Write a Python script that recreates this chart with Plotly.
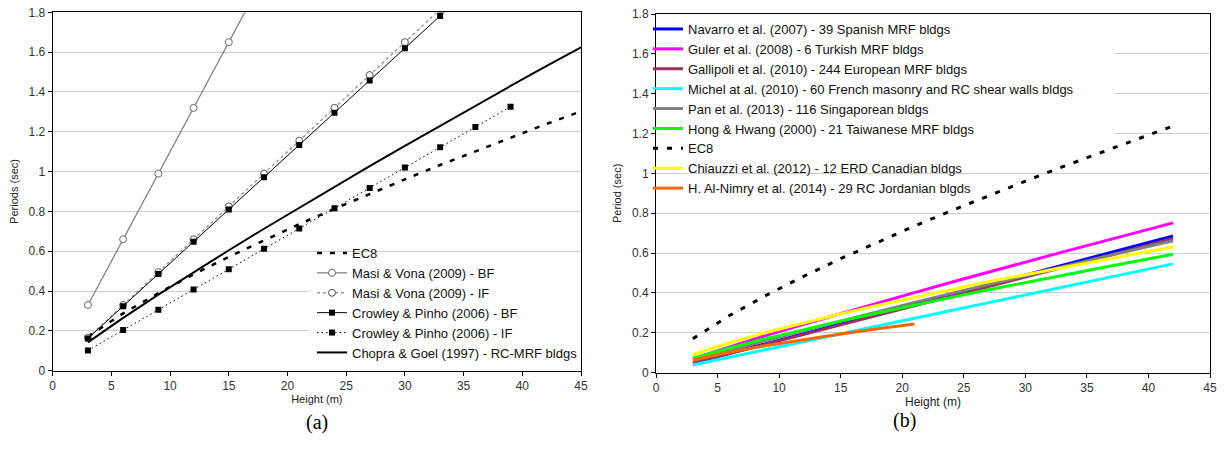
import plotly.graph_objects as go

# ---------------- data: panel (a) ----------------
H_ec8 = [3, 6, 9, 12, 15, 18, 21, 24, 27, 30, 33, 36, 39, 42, 45]
T_ec8 = [0.171, 0.288, 0.390, 0.484, 0.572, 0.655, 0.736, 0.813, 0.888, 0.961,
         1.033, 1.102, 1.171, 1.238, 1.303]

H_mv_bf = [3, 6, 9, 12, 15, 18]
T_mv_bf = [0.33, 0.66, 0.99, 1.32, 1.65, 1.98]

H_mv_if = [3, 6, 9, 12, 15, 18, 21, 24, 27, 30, 33]
T_mv_if = [0.165, 0.33, 0.495, 0.66, 0.825, 0.99, 1.155, 1.32, 1.485, 1.65, 1.815]

H_cp_bf = [3, 6, 9, 12, 15, 18, 21, 24, 27, 30, 33, 36]
T_cp_bf = [0.162, 0.324, 0.486, 0.648, 0.81, 0.972, 1.134, 1.296, 1.458, 1.62, 1.782, 1.944]

H_cp_if = [3, 6, 9, 12, 15, 18, 21, 24, 27, 30, 33, 36, 39]
T_cp_if = [0.102, 0.204, 0.306, 0.408, 0.51, 0.612, 0.714, 0.816, 0.918, 1.02,
           1.122, 1.224, 1.326]

H_cg = [3, 6, 9, 12, 15, 18, 21, 24, 27, 30, 33, 36, 39, 42, 45]
T_cg = [0.142, 0.265, 0.382, 0.495, 0.605, 0.713, 0.819, 0.924, 1.027, 1.129,
        1.230, 1.331, 1.430, 1.528, 1.624]

# ---------------- data: panel (b) ----------------
H_b = [3, 6, 9, 12, 15, 18, 21, 24, 27, 30, 33, 36, 39, 42]
T_navarro = [0.049, 0.098, 0.147, 0.196, 0.245, 0.294, 0.343, 0.392, 0.441, 0.490,
             0.539, 0.588, 0.637, 0.686]
T_guler = [0.070, 0.130, 0.188, 0.243, 0.297, 0.350, 0.402, 0.454, 0.505, 0.555,
           0.605, 0.654, 0.703, 0.752]
T_gallipoli = [0.048, 0.096, 0.144, 0.192, 0.240, 0.288, 0.336, 0.384, 0.432, 0.480,
               0.528, 0.576, 0.624, 0.672]
T_michel = [0.039, 0.078, 0.117, 0.156, 0.195, 0.234, 0.273, 0.312, 0.351, 0.390,
            0.429, 0.468, 0.507, 0.546]
T_pan = [0.060, 0.113, 0.163, 0.212, 0.260, 0.306, 0.353, 0.398, 0.443, 0.488,
         0.531, 0.576, 0.619, 0.662]
T_hong = [0.071, 0.124, 0.172, 0.217, 0.259, 0.300, 0.340, 0.378, 0.416, 0.453,
          0.489, 0.524, 0.559, 0.594]
T_ec8_b = [0.171, 0.288, 0.390, 0.484, 0.572, 0.655, 0.736, 0.813, 0.888, 0.961,
           1.033, 1.102, 1.171, 1.238]
T_chiauzzi = [0.090, 0.150, 0.203, 0.250, 0.295, 0.338, 0.378, 0.418, 0.456, 0.492,
              0.528, 0.563, 0.597, 0.631]
H_nimry = [3, 6, 9, 12, 15, 18, 21]
T_nimry = [0.064, 0.103, 0.136, 0.166, 0.194, 0.220, 0.244]

x_ticks = [0, 5, 10, 15, 20, 25, 30, 35, 40, 45]
y_ticks = [0, 0.2, 0.4, 0.6, 0.8, 1.0, 1.2, 1.4, 1.6, 1.8]

FONT = "Arial, Liberation Sans, sans-serif"
SERIF = "Times New Roman, Liberation Serif, serif"
W, HGT = 1224, 450


def px(xp):
    return xp / W


def py(yp):
    return 1 - yp / HGT


fig = go.Figure()

# ---- panel (a) traces ----
fig.add_trace(go.Scatter(x=H_ec8, y=T_ec8, mode="lines", name="EC8",
                         line=dict(color="black", width=2.5, dash="5px,8px"),
                         xaxis="x", yaxis="y", legend="legend"))
fig.add_trace(go.Scatter(x=H_mv_bf, y=T_mv_bf, mode="lines+markers",
                         name="Masi & Vona (2009) - BF",
                         line=dict(color="#7a7a7a", width=1.2),
                         marker=dict(symbol="circle", size=7, color="white",
                                     line=dict(color="#6a6a6a", width=1)),
                         xaxis="x", yaxis="y", legend="legend"))
fig.add_trace(go.Scatter(x=H_mv_if, y=T_mv_if, mode="lines+markers",
                         name="Masi & Vona (2009) - IF",
                         line=dict(color="#9a9a9a", width=1.5, dash="3px,3px"),
                         marker=dict(symbol="circle", size=7, color="white",
                                     line=dict(color="#555555", width=1)),
                         xaxis="x", yaxis="y", legend="legend"))
fig.add_trace(go.Scatter(x=H_cp_bf, y=T_cp_bf, mode="lines+markers",
                         name="Crowley & Pinho (2006) - BF",
                         line=dict(color="black", width=1),
                         marker=dict(symbol="square", size=6, color="black"),
                         xaxis="x", yaxis="y", legend="legend"))
fig.add_trace(go.Scatter(x=H_cp_if, y=T_cp_if, mode="lines+markers",
                         name="Crowley & Pinho (2006) - IF",
                         line=dict(color="black", width=1, dash="1.5px,3px"),
                         marker=dict(symbol="square", size=6, color="black"),
                         xaxis="x", yaxis="y", legend="legend"))
fig.add_trace(go.Scatter(x=H_cg, y=T_cg, mode="lines",
                         name="Chopra & Goel (1997) - RC-MRF bldgs",
                         line=dict(color="black", width=2),
                         xaxis="x", yaxis="y", legend="legend"))

# ---- panel (b) traces ----
b_series = [
    ("Navarro et al. (2007) - 39 Spanish MRF bldgs", H_b, T_navarro, "#0000FF", None),
    ("Guler et al. (2008) - 6 Turkish MRF bldgs", H_b, T_guler, "#FF00FF", None),
    ("Gallipoli et al. (2010) - 244 European MRF bldgs", H_b, T_gallipoli, "#993366", None),
    ("Michel at al. (2010) - 60 French masonry and RC shear walls bldgs", H_b, T_michel, "#00FFFF", None),
    ("Pan et al. (2013) - 116 Singaporean bldgs", H_b, T_pan, "#808080", None),
    ("Hong & Hwang (2000) - 21 Taiwanese MRF bldgs", H_b, T_hong, "#00FF00", None),
    ("EC8", H_b, T_ec8_b, "black", "5px,9px"),
    ("Chiauzzi et al. (2012) - 12 ERD Canadian bldgs", H_b, T_chiauzzi, "#FFFF00", None),
    ("H. Al-Nimry et al. (2014) - 29 RC Jordanian blgds", H_nimry, T_nimry, "#FF6600", None),
]
for name, xs, ys, col, dash in b_series:
    fig.add_trace(go.Scatter(x=xs, y=ys, mode="lines", name=name,
                             line=dict(color=col, width=3, dash=dash),
                             xaxis="x2", yaxis="y2", legend="legend2"))

axis_common = dict(
    showline=True, linecolor="black", linewidth=1, mirror=True,
    ticks="outside", ticklen=4, tickcolor="black",
    tickfont=dict(family=FONT, size=12, color="#333333"),
    zeroline=False, automargin=False, ticklabeloverflow="allow",
)

fig.update_layout(
    width=W, height=HGT,
    margin=dict(l=0, r=0, t=0, b=0),
    paper_bgcolor="white", plot_bgcolor="white",
    font=dict(family=FONT, color="#222222"),
    xaxis=dict(domain=[px(52.7), px(581)], range=[0, 45], tickvals=x_ticks,
               showgrid=False, anchor="y",
               title=dict(text="Height (m)", font=dict(size=11), standoff=0),
               **axis_common),
    yaxis=dict(domain=[py(370.7), py(12.3)], range=[0, 1.8],
               tickvals=y_ticks, showgrid=True, gridcolor="#cccccc", gridwidth=1,
               anchor="x",
               title=dict(text="Periods (sec)", font=dict(size=11), standoff=7),
               **axis_common),
    xaxis2=dict(domain=[px(656), px(1210)], range=[0, 45], tickvals=x_ticks,
                showgrid=False, anchor="y2",
                title=dict(text="Height (m)", font=dict(size=12), standoff=0),
                **axis_common),
    yaxis2=dict(domain=[py(372.7), py(14)], range=[0, 1.8],
                tickvals=y_ticks, showgrid=True, gridcolor="#cccccc", gridwidth=1,
                anchor="x2",
                title=dict(text="Period (sec)", font=dict(size=11), standoff=8),
                **axis_common),
    legend=dict(x=px(583), xanchor="right", y=py(368), yanchor="bottom",
                bgcolor="rgba(255,255,255,0)", borderwidth=0,
                font=dict(family=FONT, size=13, color="#111111"),
                tracegroupgap=0),
    legend2=dict(x=px(648), xanchor="left", y=py(14), yanchor="top",
                 bgcolor="rgba(255,255,255,0)", borderwidth=0,
                 font=dict(family=FONT, size=13, color="#111111"),
                 tracegroupgap=0),
    showlegend=True,
    shapes=[
        dict(type="rect", xref="x", yref="y", x0=21.8, x1=45, y0=0.05, y1=0.55,
             fillcolor="white", line=dict(width=0), layer="between"),
        dict(type="rect", xref="x2", yref="y2", x0=0, x1=37.3, y0=1.1, y1=1.79,
             fillcolor="white", line=dict(width=0), layer="between"),
    ],
    annotations=[
        dict(text="(a)", x=px(304), y=py(436), xref="paper", yref="paper",
             showarrow=False, font=dict(family=SERIF, size=20, color="black")),
        dict(text="(b)", x=px(918), y=py(434), xref="paper", yref="paper",
             showarrow=False, font=dict(family=SERIF, size=20, color="black")),
    ],
)

fig.write_html("out.html",
               config={"displayModeBar": False},
               post_script="document.body.style.margin='0px';"
                           "document.body.style.overflow='hidden';")
